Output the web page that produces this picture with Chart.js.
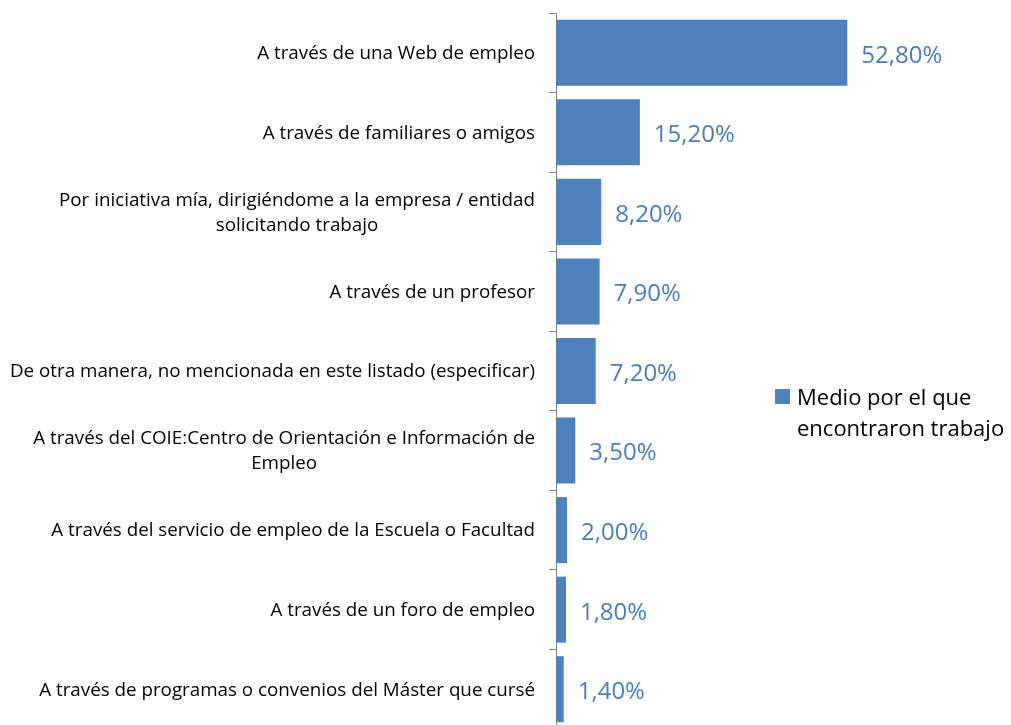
<!DOCTYPE html>
<html>
<head>
<meta charset="utf-8">
<script src="https://cdn.jsdelivr.net/npm/chart.js@4/dist/chart.umd.min.js"></script>
<style>
  html, body { margin: 0; padding: 0; background: #fff; overflow: hidden; }
  #wrap { position: relative; width: 1011px; height: 745px; }
</style>
</head>
<body>
<div id="wrap"><canvas id="myChart"></canvas></div>
<script>
// categories (each inner array = lines of the label)
const categories = [
    ['A través de una Web de empleo'],
    ['A través de familiares o amigos'],
    ['Por iniciativa mía, dirigiéndome a la empresa / entidad', 'solicitando trabajo'],
    ['A través de un profesor'],
    ['De otra manera, no mencionada en este listado (especificar)'],
    ['A través del COIE:Centro de Orientación e Información de', 'Empleo'],
    ['A través del servicio de empleo de la Escuela o Facultad'],
    ['A través de un foro de empleo'],
    ['A través de programas o convenios del Máster que cursé']
];
const values = [52.8, 15.2, 8.2, 7.9, 7.2, 3.5, 2.0, 1.8, 1.4];
const seriesName = ['Medio por el que', 'encontraron trabajo'];

const barColor = '#4f81bd';
const labelFont = '18.8px "Open Sans"';
const valueFont = '24px "Open Sans"';
const legendFont = '22px "Open Sans"';

fmt = (v) => v.toFixed(2).replace('.', ',') + '%';

// category labels drawn centered per block, block right-aligned near the axis
const catLabels = {
    id: 'catLabels',
    afterDraw(chart) {
        const ctx = chart.ctx;
        const y = chart.scales.y;
        const right = chart.chartArea.left - 21;
        ctx.save();
        ctx.font = labelFont;
        ctx.fillStyle = '#000';
        ctx.textAlign = 'center';
        ctx.textBaseline = 'middle';
        const lh = 25;
        categories.forEach((lines, i) => {
            let w = Math.max(...lines.map(l => ctx.measureText(l).width));
            let cx = right - w / 2;
            let cy = y.getPixelForValue(i) + 1 - (lines.length - 1) * lh / 2;
            lines.forEach((l, k) => ctx.fillText(l, cx, cy + k * lh));
        });
        ctx.restore();
    }
};

// value labels at bar ends + legend
const valueLabels = {
    id: 'valueLabels',
    afterDraw(chart) {
        const ctx = chart.ctx;
        const meta = chart.getDatasetMeta(0);
        ctx.save();
        ctx.font = valueFont;
        ctx.fillStyle = '#4a7ebb';
        ctx.textAlign = 'left';
        ctx.textBaseline = 'middle';
        meta.data.forEach((bar, i) => {
            ctx.fillText(fmt(values[i]), bar.x + 14, bar.y + 3);
        });
        // legend
        const lx = 775, ly = 396;
        ctx.fillStyle = barColor;
        ctx.fillRect(lx, ly - 7, 15, 15);
        ctx.fillStyle = '#000';
        ctx.font = legendFont;
        ctx.fillText(seriesName[0], lx + 22, ly + 3);
        ctx.fillText(seriesName[1], lx + 22, ly + 34);
        ctx.restore();
    }
};

displayGraph = () => {
    const ctx = document.getElementById('myChart').getContext('2d');
    new Chart(ctx, {
        type: 'bar',
        data: {
            labels: categories.map(c => c.join(' ')),
            datasets: [{
                label: seriesName.join(' '),
                data: values,
                backgroundColor: barColor,
                borderWidth: 0,
                categoryPercentage: 0.83,
                barPercentage: 1.0
            }]
        },
        options: {
            indexAxis: 'y',
            responsive: true,
            maintainAspectRatio: false,
            animation: false,
            layout: { padding: { top: 13, bottom: 16, right: 124, left: 0 } },
            plugins: { legend: { display: false }, tooltip: { enabled: false } },
            scales: {
                x: { display: false, min: 0, max: 60 },
                y: {
                    afterFit: (scale) => { scale.width = 556; },
                    grid: {
                        offset: true,
                        drawOnChartArea: false,
                        drawTicks: true,
                        tickLength: 7,
                        color: '#868686'
                    },
                    border: { color: '#868686', width: 1 },
                    ticks: { display: false }
                }
            }
        },
        plugins: [catLabels, valueLabels]
    });
};

displayGraph();
</script>
</body>
</html>
